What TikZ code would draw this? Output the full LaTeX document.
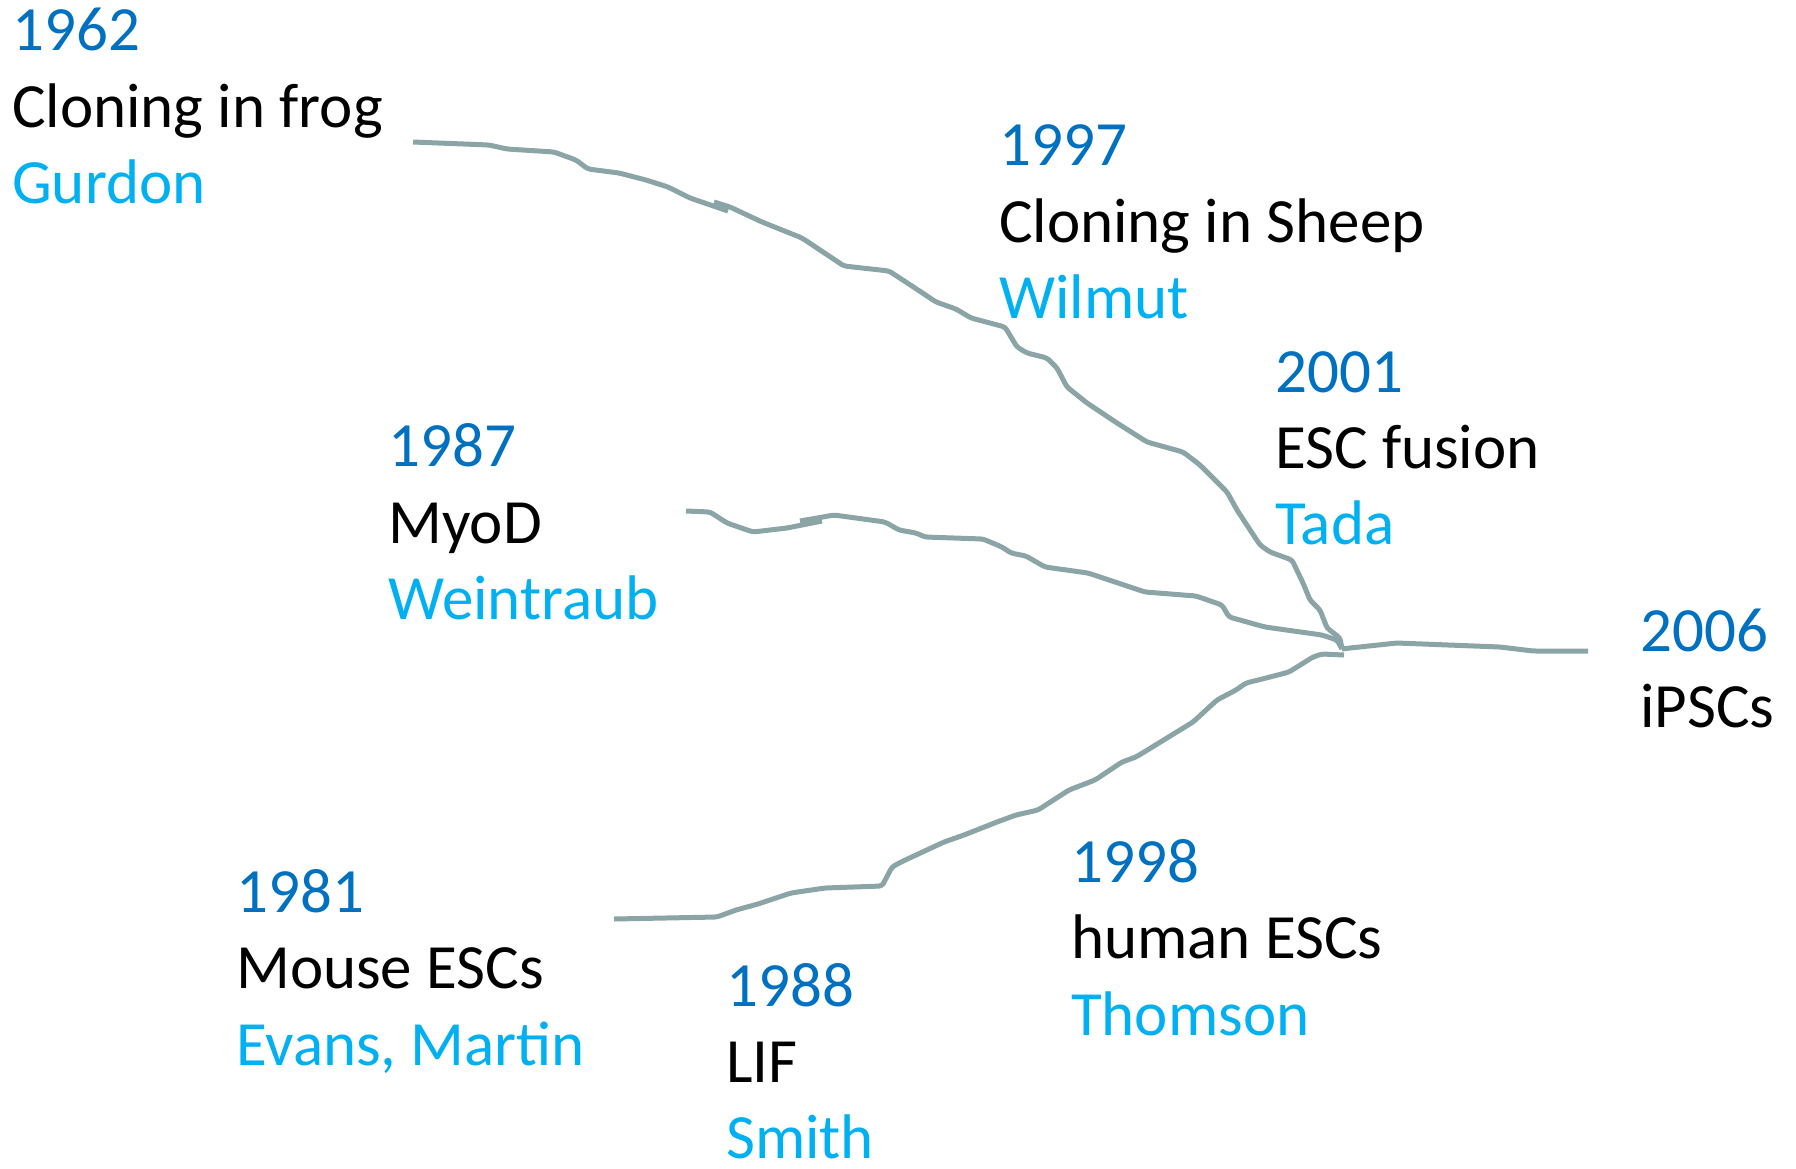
\documentclass[tikz,border=0pt]{standalone}
\usepackage{fontspec}
\setmainfont{Carlito}
\definecolor{yearblue}{RGB}{0,112,192}
\definecolor{nameblue}{RGB}{0,176,240}
\definecolor{branchgray}{RGB}{139,164,166}
\begin{document}
\begin{tikzpicture}[x=1pt,y=-1pt,
  lbl/.style={anchor=base west,inner sep=0pt,font=\fontsize{63}{77}\selectfont},
  yr/.style={lbl,text=yearblue},
  what/.style={lbl,text=black},
  who/.style={lbl,text=nameblue},
  branch/.style={draw=branchgray,line width=5pt,line join=round,rounded corners=3pt}]
\useasboundingbox (0,0) rectangle (1796,1168);

% labels
\node[yr]   (y62) at (12,50)  {1962};
\node[what] (w62) at (12,127) {Cloning in frog};
\node[who]  (n62) at (12,203) {Gurdon};

\node[yr]   (y97) at (999,165) {1997};
\node[what] (w97) at (999,242) {Cloning in Sheep};
\node[who]  (n97) at (999,318) {Wilmut};

\node[yr]   (y01) at (1275,392) {2001};
\node[what] (w01) at (1275,468) {ESC fusion};
\node[who]  (n01) at (1275,544) {Tada};

\node[yr]   (y87) at (388,466) {1987};
\node[what] (w87) at (388,543) {MyoD};
\node[who]  (n87) at (388,619) {Weintraub};

\node[yr]   (y06) at (1640,651) {2006};
\node[what] (w06) at (1640,727) {iPSCs};

\node[yr]   (y81) at (236,912) {1981};
\node[what] (w81) at (236,988) {Mouse ESCs};
\node[who]  (n81) at (236,1065) {Evans, Martin};

\node[yr]   (y88) at (726,1006) {1988};
\node[what] (w88) at (726,1082) {LIF};
\node[who]  (n88) at (726,1158) {Smith};

\node[yr]   (y98) at (1071,882) {1998};
\node[what] (w98) at (1071,958) {human ESCs};
\node[who]  (n98) at (1071,1035) {Thomson};

% branch end points
\coordinate (s62) at (413,142);
\coordinate (s87) at (686,511);
\coordinate (s81) at (614,919);
\coordinate (J)   at (1342,649);
\coordinate (e81) at (1344,655);
\coordinate (e06) at (1588,651);

% 1962 branch
\path[branch] (s62) -- (489,145) -- (507,149) -- (554,152) -- (576,160) -- (588,169)
  -- (619,173) -- (646,180) -- (668,187) -- (690,198) -- (728,211);
\path[branch] (714,202) -- (730,207) -- (762,222) -- (802,238) -- (844,266) -- (889,271)
  -- (918,290) -- (936,302) -- (956,309) -- (971,318) -- (1005,327) -- (1017,347)
  -- (1027,353) -- (1047,358) -- (1057,368) -- (1067,387) -- (1087,403) -- (1117,423)
  -- (1147,442) -- (1183,452) -- (1200,465) -- (1227,492) -- (1237,510) -- (1260,545)
  -- (1270,552) -- (1292,560) -- (1303,583) -- (1310,600) -- (1320,610) -- (1327,628)
  -- (1340,638) -- (J);

% 1987 branch
\path[branch] (s87) -- (710,512) -- (727,523) -- (753,532) -- (787,528) -- (822,521);
\path[branch] (800,521) -- (834,515) -- (885,522) -- (899,530) -- (916,533) -- (925,537)
  -- (983,539) -- (1002,547) -- (1011,553) -- (1026,556) -- (1045,567) -- (1088,573)
  -- (1145,592) -- (1196,596) -- (1222,605) -- (1229,617) -- (1265,627) -- (1322,635)
  -- (1337,640) -- (J);

% 1981 branch
\path[branch] (s81) -- (717,917) -- (736,910) -- (758,904) -- (791,893) -- (825,888)
  -- (882,886) -- (892,867) -- (901,862) -- (944,842) -- (964,835) -- (997,822)
  -- (1016,815) -- (1038,810) -- (1069,790) -- (1095,780) -- (1122,762) -- (1136,757)
  -- (1193,722) -- (1217,700) -- (1236,690) -- (1246,683) -- (1270,677) -- (1289,672)
  -- (1313,657) -- (1322,654) -- (e81);

% trunk to 2006
\path[branch] (J) -- (1350,648) -- (1397,643) -- (1500,647) -- (1533,651) -- (e06);
\end{tikzpicture}
\end{document}
